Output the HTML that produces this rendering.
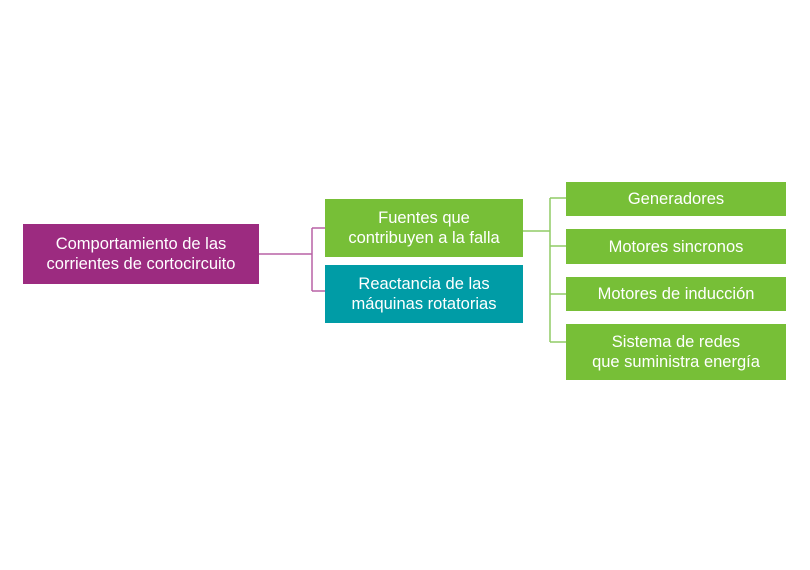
<!DOCTYPE html>
<html><head><style>
body{margin:0;width:810px;height:570px;background:#fff;position:relative;font-family:"Liberation Sans",sans-serif;overflow:hidden}
.b{position:absolute;color:#fff;font-size:16.5px;line-height:20px;display:flex;align-items:center;justify-content:center;text-align:center}
.p{background:#9c2b80}.g{background:#77bf37}.t{background:#009ca6}
</style></head><body>
<svg width="810" height="570" style="position:absolute;left:0;top:0">
<g stroke="#b862a5" stroke-width="1.5" fill="none">
<path d="M259 254H312M312 228V291M312 228H325M312 291H325"/>
</g>
<g stroke="#90cc66" stroke-width="1.5" fill="none">
<path d="M523 231H550M550 198V342M550 198H566M550 246H566M550 294H566M550 342H566"/>
</g>
</svg>
<div class="b p" style="left:23px;top:224px;width:236px;height:60px">Comportamiento de las<br>corrientes de cortocircuito</div>
<div class="b g" style="left:325px;top:199px;width:198px;height:58px">Fuentes que<br>contribuyen a la falla</div>
<div class="b t" style="left:325px;top:265px;width:198px;height:58px">Reactancia de las<br>máquinas rotatorias</div>
<div class="b g" style="left:566px;top:182px;width:220px;height:34px">Generadores</div>
<div class="b g" style="left:566px;top:229px;width:220px;height:35px">Motores sincronos</div>
<div class="b g" style="left:566px;top:277px;width:220px;height:34px">Motores de inducción</div>
<div class="b g" style="left:566px;top:324px;width:220px;height:56px">Sistema de redes<br>que suministra energía</div>
</body></html>
